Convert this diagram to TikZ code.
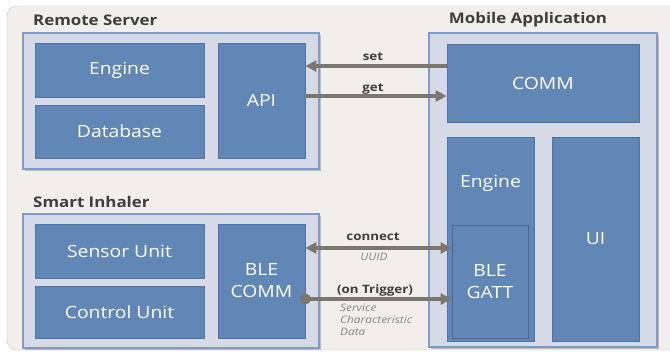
\documentclass[tikz,border=0pt]{standalone}
\usepackage{fontspec}
\setmainfont{Open Sans}[FakeStretch=1.15]
\usetikzlibrary{arrows.meta,shadows}
\definecolor{framebg}{HTML}{F1EEEB}
\definecolor{framegray}{HTML}{C8C4BF}
\definecolor{groupfill}{HTML}{D5DAE6}
\definecolor{groupedge}{HTML}{7F9BC6}
\definecolor{blockblue}{HTML}{6187B7}
\definecolor{blockedge}{HTML}{4F73A3}
\definecolor{gattedge}{HTML}{46679A}
\definecolor{arrowgray}{HTML}{7B7670}
\definecolor{titlegray}{HTML}{3E3E3E}
\definecolor{notegray}{HTML}{8A8580}

\begin{document}
\begin{tikzpicture}[x=1pt,y=-1pt,
 group/.style={draw=groupedge,fill=groupfill,line width=1.2pt,inner sep=0pt,
   drop shadow={shadow xshift=2pt,shadow yshift=-2pt,opacity=0.3,fill=black!70}},
 block/.style={draw=blockedge,fill=blockblue,line width=0.8pt,text=white,align=center,inner sep=0pt,font=\fontsize{16.8}{22}\selectfont},
 title/.style={text=titlegray,font=\bfseries\fontsize{14.7}{17}\selectfont,inner sep=0pt},
 flow/.style={draw=arrowgray,line width=3.2pt},
 tag/.style={text=titlegray,font=\bfseries\fontsize{11.6}{13}\selectfont,inner sep=0pt},
 note/.style={text=notegray,font=\itshape\fontsize{10.3}{12}\selectfont,inner sep=0pt,align=left}]
\useasboundingbox (0,0) rectangle (670,357);
\clip (0,0) rectangle (670,357);
\fill[white] (0,0) rectangle (670,357);
\draw[draw=framegray,fill=framebg,rounded corners=10pt] (7,6) rectangle (700,350);

% remote server
\node[title,anchor=west] (rstitle) at (33,20) {Remote Server};
\node[group,minimum width=296pt,minimum height=136pt] (rs) at (171,101) {};
\node[block,minimum width=169pt,minimum height=54pt] (rsengine) at (119.5,70) {Engine};
\node[block,minimum width=169pt,minimum height=53pt] (database) at (119.5,131.5) {Database};
\node[block,minimum width=87pt,minimum height=115pt] (api) at (261.5,100.5) {API};

% smart inhaler
\node[title,anchor=west] (sititle) at (33,202) {Smart Inhaler};
\node[group,minimum width=296pt,minimum height=134pt] (inhaler) at (171,281) {};
\node[block,minimum width=169pt,minimum height=54pt] (sensor) at (119.5,251) {Sensor Unit};
\node[block,minimum width=169pt,minimum height=52pt] (control) at (119.5,312) {Control Unit};
\node[block,minimum width=87pt,minimum height=114pt] (blecomm) at (261.5,281) {BLE\\COMM};

% mobile application
\node[title] (matitle) at (528,20) {Mobile Application};
\node[group,minimum width=228pt,minimum height=314pt] (mobile) at (543,190) {};
\node[block,minimum width=192pt,minimum height=78pt] (comm) at (543,83) {COMM};
\node[block,minimum width=87pt,minimum height=204pt] (appengine) at (490.5,239) {};
\node[block,draw=none,fill=none] at ([yshift=-47pt]appengine.north) {Engine};
\node[block,draw=gattedge,minimum width=76pt,minimum height=113pt] (gatt) at (490,281.5) {BLE\\GATT};
\node[block,minimum width=87pt,minimum height=204pt] (ui) at (595.5,239) {UI};

% links
\draw[flow,-{Triangle[length=11pt,width=11pt]}] (comm.west |- 0,66) -- (api.east |- 0,66);
\draw[flow,-{Triangle[length=11pt,width=11pt]}] (api.east |- 0,96) -- (comm.west |- 0,96);
\draw[flow,{Triangle[length=11pt,width=11pt]}-{Triangle[length=11pt,width=11pt]}] (blecomm.east |- 0,248) -- (gatt.west |- 0,248);
\fill[arrowgray] (blecomm.east |- 0,299) circle (5.5pt);
\draw[flow,-{Triangle[length=11pt,width=11pt]}] (blecomm.east |- 0,299) -- (gatt.west |- 0,299);

\node[tag] (set) at (373,57) {set};
\node[tag] (get) at (373,89) {get};
\node[tag] (connect) at (373,237) {connect};
\node[note] (uuid) at (374,257) {UUID};
\node[tag] (trigger) at (375,290) {(on Trigger)};
\node[note,anchor=north west] (payload) at (340,304) {Service\\Characteristic\\Data};
\end{tikzpicture}
\end{document}
